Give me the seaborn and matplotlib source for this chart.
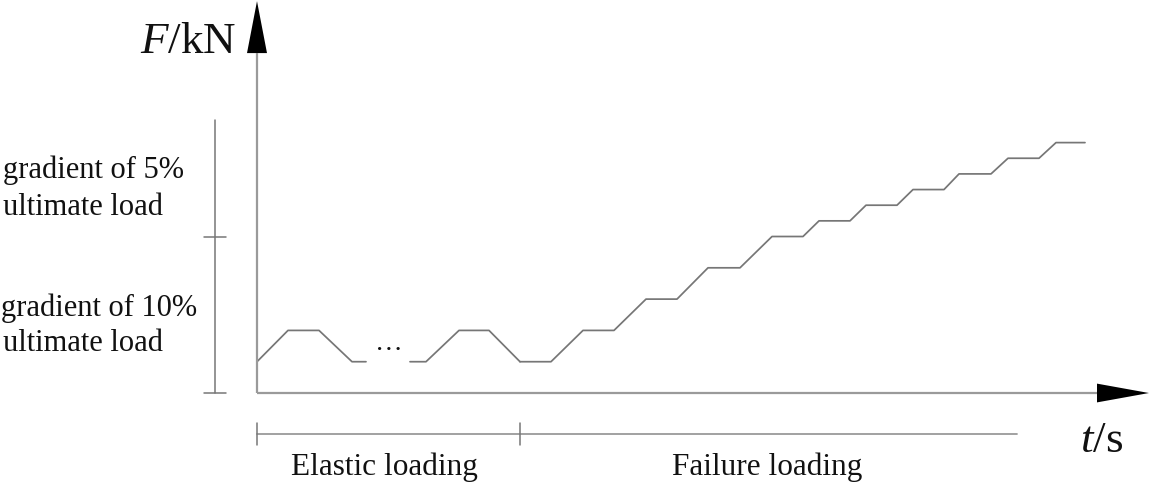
import numpy as np
import pandas as pd
import matplotlib
matplotlib.use("Agg")
import matplotlib.pyplot as plt
from matplotlib.patches import Polygon
import seaborn as sns

# ---------------- data (time in s, force as % of ultimate load) ----------------
cycle1_t = [0.0, 3.1, 6.2, 9.5, 10.9]
cycle1_F = [10, 20, 20, 10, 10]

cycle2_t = [15.3, 16.9, 20.2, 23.2, 26.3]
cycle2_F = [10, 10, 20, 20, 10]

failure_t = [26.3, 29.4, 32.6, 35.7, 38.9, 42.0, 45.1, 48.3, 51.5, 54.6,
             56.2, 59.3, 60.9, 64.0, 65.6, 68.7, 70.2, 73.4, 75.1, 78.2,
             79.9, 82.8]
failure_F = [10, 10, 20, 20, 30, 30, 40, 40, 50, 50,
             55, 55, 60, 60, 65, 65, 70, 70, 75, 75,
             80, 80]

bracket_F = [0, 50, 87.2]          # gradient bracket on the left
phase_t = [0, 26.3, 76.0]          # elastic / failure phase bracket

gradient_lines = ["gradient of 10%", "ultimate load", "gradient of 5%", "ultimate load"]
phase_labels = ["Elastic loading", "Failure loading"]

# ---------------- style ----------------
sns.set_theme(style="white")
plt.rcParams["font.family"] = ["Liberation Serif", "DejaVu Serif"]
plt.rcParams["mathtext.fontset"] = "custom"
plt.rcParams["mathtext.it"] = "Liberation Serif:italic"
plt.rcParams["mathtext.rm"] = "Liberation Serif"

LINE = "#767676"
AXC = "#9a9a9a"
TXT = "#111111"

fig = plt.figure(figsize=(11.5, 4.83), dpi=100)
ax = fig.add_axes([0, 0, 1, 1])

df = pd.concat([
    pd.DataFrame({"t": cycle1_t, "F": cycle1_F, "seg": "c1"}),
    pd.DataFrame({"t": cycle2_t, "F": cycle2_F, "seg": "c2"}),
    pd.DataFrame({"t": failure_t, "F": failure_F, "seg": "fail"}),
], ignore_index=True)
sns.lineplot(data=df, x="t", y="F", units="seg", estimator=None, sort=False,
             color=LINE, lw=1.25, ax=ax, legend=False)
ax.set_xlim(-25.7, 89.3)
ax.set_ylim(-28.75, 125.56)
ax.axis("off")

# ---- axes with arrowheads ----
ax.plot([0, 0], [0, 108.6], color=AXC, lw=1.6, solid_capstyle="butt")
ax.plot([0, 84.0], [0, 0], color=AXC, lw=1.6, solid_capstyle="butt")
ax.add_patch(Polygon([[-1.0, 108.6], [1.0, 108.6], [0, 125.2]], closed=True,
                     color="black", lw=0))
ax.add_patch(Polygon([[84.0, 3.0], [84.0, -3.0], [89.2, 0]], closed=True,
                     color="black", lw=0))

# ---- left bracket ----
bx = -4.2
ax.plot([bx, bx], [bracket_F[0], bracket_F[-1]], color=LINE, lw=1.1)
for f in bracket_F[:-1]:
    ax.plot([bx - 1.1, bx + 1.1], [f, f], color=LINE, lw=1.1)

# ---- bottom bracket ----
by = -13.1
ax.plot([phase_t[0], phase_t[-1]], [by, by], color=AXC, lw=1.3)
for t in phase_t[:-1]:
    ax.plot([t, t], [by - 3.4, by + 3.4], color=LINE, lw=1.1)

# ---- texts ----
ax.text(-2.1, 108.6, "$F$/kN", ha="right", va="baseline", fontsize=32.5, color=TXT)
ax.text(82.3, -18.8, "$t$/s", ha="left", va="baseline", fontsize=32.5, color=TXT)
ax.text(13.2, 13.6, "\u2026", ha="center", va="baseline", fontsize=20, color=TXT)

grad_baselines = [24.6, 13.3, 68.7, 56.9]
grad_x = [-25.6, -25.4, -25.4, -25.4]
for lab, b, x in zip(gradient_lines, grad_baselines, grad_x):
    ax.text(x, b, lab, ha="left", va="baseline", fontsize=22, color=TXT)

ax.text(12.7, -26.2, phase_labels[0], ha="center", va="baseline",
        fontsize=22.5, color=TXT)
ax.text(51.0, -26.2, phase_labels[1], ha="center", va="baseline",
        fontsize=22.5, color=TXT)

fig.savefig("out.png", dpi=100, facecolor="white")
